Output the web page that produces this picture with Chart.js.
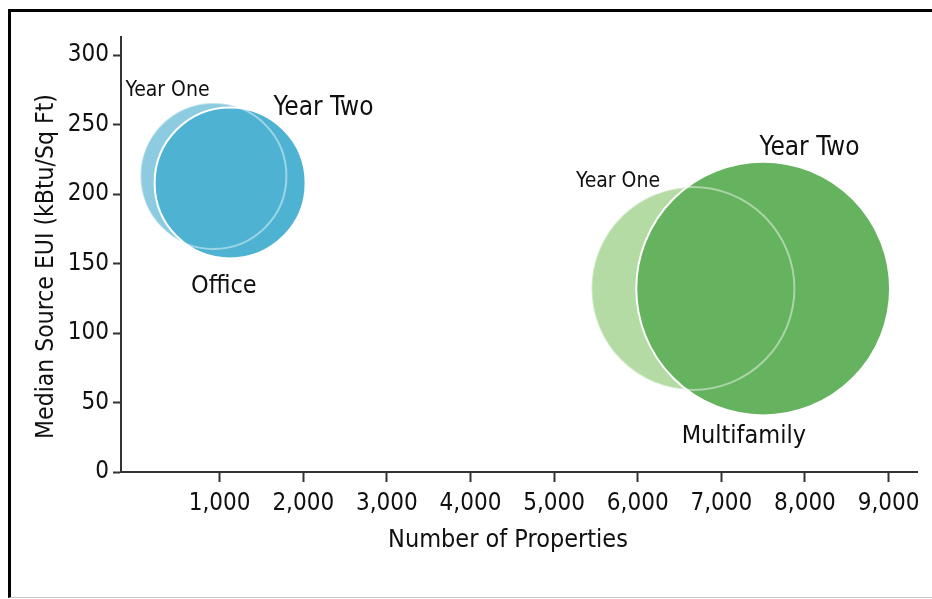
<!DOCTYPE html>
<html>
<head>
<meta charset="utf-8">
<script src="https://cdn.jsdelivr.net/npm/chart.js@4/dist/chart.umd.min.js"></script>
<style>
  html, body { margin: 0; padding: 0; background: #fff; }
  #wrap { position: relative; width: 932px; height: 599px; overflow: hidden; }
  #c { position: absolute; left: 0; top: 0; }
  #frame { position: absolute; left: 8px; top: 9px; right: -5px; height: 585px;
           border-left: 3px solid #000; border-top: 3px solid #000; border-bottom: 1px solid #c8c8c8;
           pointer-events: none; }
</style>
</head>
<body>
<div id="wrap">
  <canvas id="c" width="932" height="599"></canvas>
  <div id="frame"></div>
</div>
<script>
// ---- data ----
const categories = ['Office', 'Multifamily'];
const yearOneProperties = [925, 6660];
const yearOneEUI = [213, 132];
const yearOneBubbleValue = [53.3, 103];
const yearTwoProperties = [1125, 7500];
const yearTwoEUI = [208, 132];
const yearTwoBubbleValue = [57, 161];
const xTickValues = [1000, 2000, 3000, 4000, 5000, 6000, 7000, 8000, 9000];
const yTickValues = [0, 50, 100, 150, 200, 250, 300];
const xAxisTitle = 'Number of Properties';
const yAxisTitle = 'Median Source EUI (kBtu/Sq Ft)';

// ---- styles ----
const FONT = '"DejaVu Sans Condensed", "DejaVu Sans", sans-serif';
const TEXT = '#111011';
const AXIS = '#333333';
const yearOneColors = ['#8dcbe0', '#b3dba3'];
const yearTwoColors = ['#4eb3d2', '#65b25f'];
const RADIUS_SCALE = 10;

function points(xs, ys, vs) {
  return xs.map((x, i) => ({ x: x, y: ys[i], v: vs[i], cat: categories[i] }));
}
const radiusFn = ctx => RADIUS_SCALE * Math.sqrt(ctx.raw.v);

// annotation labels (data-space anchors, centre / baseline)
const labels = [
  { text: 'Year One', x: 376, y: 270.3, size: 21 },
  { text: 'Year Two', x: 2241, y: 256.8, size: 26 },
  { text: 'Office', x: 1049, y: 128.9, size: 25 },
  { text: 'Year One', x: 5764, y: 205.3, size: 21 },
  { text: 'Year Two', x: 8055, y: 228.1, size: 26 },
  { text: 'Multifamily', x: 7269, y: 20.8, size: 25 }
];

const textPlugin = {
  id: 'textPlugin',
  afterDraw(chart) {
    const { ctx, chartArea, scales } = chart;
    ctx.save();
    ctx.fillStyle = TEXT;
    ctx.textAlign = 'center';
    ctx.textBaseline = 'alphabetic';
    labels.forEach(l => {
      ctx.font = l.size + 'px ' + FONT;
      ctx.fillText(l.text, scales.x.getPixelForValue(l.x), scales.y.getPixelForValue(l.y));
    });
    // axis titles
    ctx.font = '25px ' + FONT;
    ctx.fillText(xAxisTitle, (chartArea.left + chartArea.right) / 2 - 11, chartArea.bottom + 75);
    ctx.font = '24.5px ' + FONT;
    ctx.translate(53, (chartArea.top + chartArea.bottom) / 2 + 12);
    ctx.rotate(-Math.PI / 2);
    ctx.fillText(yAxisTitle, 0, 0);
    ctx.restore();
  }
};

new Chart(document.getElementById('c'), {
  type: 'bubble',
  data: {
    datasets: [
      {
        label: 'Year One outline',
        data: points(yearOneProperties, yearOneEUI, yearOneBubbleValue),
        backgroundColor: 'rgba(0,0,0,0)',
        borderColor: 'rgba(255,255,255,0.45)',
        borderWidth: 2,
        radius: radiusFn,
        order: 0
      },
      {
        label: 'Year Two',
        data: points(yearTwoProperties, yearTwoEUI, yearTwoBubbleValue),
        backgroundColor: yearTwoColors,
        borderColor: '#ffffff',
        borderWidth: 2,
        radius: radiusFn,
        order: 1
      },
      {
        label: 'Year One',
        data: points(yearOneProperties, yearOneEUI, yearOneBubbleValue),
        backgroundColor: yearOneColors,
        borderColor: yearOneColors,
        borderWidth: 0,
        radius: radiusFn,
        order: 2
      }
    ]
  },
  options: {
    responsive: false,
    animation: false,
    events: [],
    clip: false,
    layout: { autoPadding: false, padding: { left: 0, top: 37, right: 15, bottom: 0 } },
    plugins: { legend: { display: false }, tooltip: { enabled: false } },
    scales: {
      x: {
        type: 'linear',
        min: -180,
        max: 9340,
        afterFit(s) { s.height = 127; },
        afterBuildTicks(s) { s.ticks = xTickValues.map(v => ({ value: v })); },
        grid: { display: true, drawOnChartArea: false, drawTicks: true, tickLength: 10, tickWidth: 2, tickColor: AXIS },
        border: { display: true, color: AXIS, width: 2 },
        ticks: {
          autoSkip: false, maxRotation: 0, padding: 7, color: TEXT,
          font: { family: FONT, size: 24 },
          callback: v => v.toLocaleString('en-US')
        }
      },
      y: {
        type: 'linear',
        min: 0,
        max: 313,
        afterFit(s) { s.width = 121; },
        afterBuildTicks(s) { s.ticks = yTickValues.map(v => ({ value: v })); },
        grid: { display: true, drawOnChartArea: false, drawTicks: true, tickLength: 8, tickWidth: 2, tickColor: AXIS },
        border: { display: true, color: AXIS, width: 2 },
        ticks: {
          padding: 4, color: TEXT,
          font: { family: FONT, size: 24 },
          callback: v => String(v)
        }
      }
    }
  },
  plugins: [textPlugin]
});
</script>
</body>
</html>
